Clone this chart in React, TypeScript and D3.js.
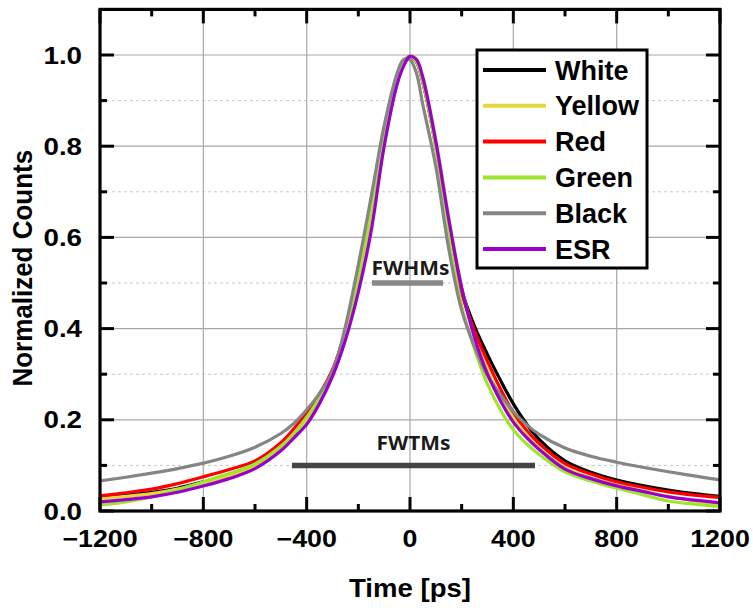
import React from "react";
import * as d3 from "d3";

const times = [-1200,-1100,-1000,-900,-800,-700,-600,-500,-450,-400,-350,-300,-250,-200,-150,-100,-50,-25,0,25,50,100,150,200,250,300,350,400,450,500,600,700,800,900,1000,1100,1200];

const whiteVals = [0.030,0.035,0.041,0.050,0.064,0.080,0.102,0.140,0.168,0.202,0.245,0.305,0.395,0.515,0.665,0.830,0.950,0.985,0.997,0.985,0.940,0.800,0.625,0.485,0.405,0.343,0.287,0.235,0.192,0.157,0.110,0.085,0.068,0.056,0.046,0.038,0.032];
const yellowVals = [0.027,0.032,0.038,0.048,0.062,0.077,0.096,0.135,0.163,0.197,0.240,0.298,0.380,0.490,0.635,0.800,0.940,0.980,0.998,0.990,0.950,0.815,0.645,0.490,0.385,0.310,0.250,0.205,0.168,0.138,0.095,0.073,0.058,0.044,0.032,0.022,0.014];
const redVals = [0.033,0.040,0.048,0.060,0.075,0.091,0.110,0.150,0.180,0.216,0.257,0.310,0.395,0.515,0.665,0.830,0.950,0.985,0.997,0.985,0.940,0.800,0.620,0.478,0.395,0.328,0.268,0.216,0.178,0.148,0.104,0.081,0.064,0.052,0.042,0.035,0.030];
const greenVals = [0.013,0.020,0.031,0.046,0.064,0.082,0.103,0.142,0.170,0.205,0.248,0.305,0.390,0.510,0.660,0.825,0.950,0.985,0.997,0.985,0.940,0.795,0.605,0.450,0.355,0.278,0.222,0.178,0.148,0.124,0.086,0.066,0.050,0.036,0.022,0.015,0.010];
const blackVals = [0.066,0.074,0.083,0.093,0.105,0.120,0.140,0.170,0.192,0.222,0.258,0.305,0.405,0.540,0.690,0.845,0.960,0.990,0.990,0.960,0.890,0.755,0.575,0.440,0.360,0.297,0.255,0.218,0.190,0.168,0.138,0.120,0.107,0.096,0.086,0.077,0.068];
const esrVals = [0.020,0.025,0.031,0.041,0.055,0.071,0.093,0.132,0.160,0.190,0.236,0.295,0.375,0.480,0.615,0.800,0.935,0.975,0.997,0.990,0.950,0.810,0.640,0.490,0.380,0.300,0.242,0.195,0.162,0.135,0.092,0.071,0.055,0.043,0.031,0.024,0.018];

const seriesNames = ["White","Yellow","Red","Green","Black","ESR"];
const seriesColors = ["#000000","#e6d63c","#ff0000","#9ee62e","#858585","#9a00cc"];
const seriesValues = [whiteVals,yellowVals,redVals,greenVals,blackVals,esrVals];

const markerLabels = ["FWHMs","FWTMs"];
const markerLevels = [0.5,0.1];
const markerStart = [-147,-457];
const markerEnd = [128,484];
const markerColors = ["#888888","#444444"];

const xMajor = [-1200,-800,-400,0,400,800,1200];
const xMinor = [-1000,-600,-200,200,600,1000];
const yMajor = [0,0.2,0.4,0.6,0.8,1.0];
const yMinor = [0.1,0.3,0.5,0.7,0.9];

const L = 100, R = 720, T = 9.4, B = 511;

export default function App() {
  const x = d3.scaleLinear().domain([-1200,1200]).range([L,R]);
  const y = d3.scaleLinear().domain([0,1.1]).range([B,T]);
  const line = d3.line<[number,number]>().x(d => x(d[0])).y(d => y(d[1])).curve(d3.curveCatmullRom.alpha(0.5));
  const fmtX = (v: number) => (v < 0 ? "\u2212" + Math.abs(v) : String(v));
  const fmtY = (v: number) => v.toFixed(1);
  const tickFont = "Liberation Sans, Arial, sans-serif";
  const majLen = 14, minLen = 7;
  return (
    <svg width={753} height={608} style={{display:"block", position:"absolute", left:0, top:0}}>
      <rect x={0} y={0} width={753} height={608} fill="#fff" />
      <defs>
        <clipPath id="plotclip"><rect x={L} y={T} width={R-L} height={B-T} /></clipPath>
      </defs>
      {yMinor.map(v => (
        <line key={"ym"+v} x1={L} x2={R} y1={y(v)} y2={y(v)} stroke="#c8c8c8" strokeWidth={1} strokeDasharray="3,3" />
      ))}
      {yMajor.filter(v => v > 0).map(v => (
        <line key={"yg"+v} x1={L} x2={R} y1={y(v)} y2={y(v)} stroke="#a8a8a8" strokeWidth={1.2} />
      ))}
      {xMajor.filter(v => v > -1200 && v < 1200).map(v => (
        <line key={"xg"+v} x1={x(v)} x2={x(v)} y1={T} y2={B} stroke="#a8a8a8" strokeWidth={1.2} />
      ))}
      {markerLabels.map((lab, i) => (
        <g key={lab}>
          <line x1={x(markerStart[i])} x2={x(markerEnd[i])} y1={y(markerLevels[i])} y2={y(markerLevels[i])} stroke={markerColors[i]} strokeWidth={5.5} />
          <text transform={`translate(${(x(markerStart[i]) + x(markerEnd[i])) / 2 + (i === 0 ? 3 : 0)},${y(markerLevels[i]) - (i === 0 ? 8 : 15)}) scale(1.1,1)`} textAnchor="middle" fontFamily="Noto Sans, Open Sans, sans-serif" fontWeight={700} fontSize={19} fill="#1a1a1a">{lab}</text>
        </g>
      ))}
      <g clipPath="url(#plotclip)">
        {seriesValues.map((vals, i) => (
          <path key={seriesNames[i]} d={line(times.map((t, j) => [t, vals[j]] as [number,number])) || ""} fill="none" stroke={seriesColors[i]} strokeWidth={3.2} strokeLinejoin="round" />
        ))}
      </g>
      {xMajor.map(v => (
        <g key={"xt"+v}>
          <line x1={x(v)} x2={x(v)} y1={B} y2={B-majLen} stroke="#000" strokeWidth={3} />
          <line x1={x(v)} x2={x(v)} y1={T} y2={T+majLen} stroke="#000" strokeWidth={3} />
        </g>
      ))}
      {xMinor.map(v => (
        <g key={"xn"+v}>
          <line x1={x(v)} x2={x(v)} y1={B} y2={B-minLen} stroke="#000" strokeWidth={3} />
          <line x1={x(v)} x2={x(v)} y1={T} y2={T+minLen} stroke="#000" strokeWidth={3} />
        </g>
      ))}
      {yMajor.map(v => (
        <g key={"yt"+v}>
          <line x1={L} x2={L+majLen} y1={y(v)} y2={y(v)} stroke="#000" strokeWidth={3} />
          <line x1={R} x2={R-majLen} y1={y(v)} y2={y(v)} stroke="#000" strokeWidth={3} />
        </g>
      ))}
      {yMinor.map(v => (
        <g key={"yn"+v}>
          <line x1={L} x2={L+minLen} y1={y(v)} y2={y(v)} stroke="#000" strokeWidth={3} />
          <line x1={R} x2={R-minLen} y1={y(v)} y2={y(v)} stroke="#000" strokeWidth={3} />
        </g>
      ))}
      <rect x={L} y={T} width={R-L} height={B-T} fill="none" stroke="#000" strokeWidth={3.2} />
      {xMajor.map(v => (
        <text key={"xl"+v} transform={`translate(${x(v)},547) scale(1.14,1)`} textAnchor="middle" fontFamily={tickFont} fontWeight={700} fontSize={23.5}>{fmtX(v)}</text>
      ))}
      {yMajor.map(v => (
        <text key={"yl"+v} transform={`translate(82,${y(v) + 8.5}) scale(1.18,1)`} textAnchor="end" fontFamily={tickFont} fontWeight={700} fontSize={23.5}>{fmtY(v)}</text>
      ))}
      <text transform={`translate(${(L+R)/2},597) scale(1.06,1)`} textAnchor="middle" fontFamily={tickFont} fontWeight={700} fontSize={26}>Time [ps]</text>
      <text transform={`translate(32,${(T+B)/2 + 8}) scale(1.08,1) rotate(-90)`} textAnchor="middle" fontFamily={tickFont} fontWeight={700} fontSize={26}>Normalized Counts</text>
      <rect x={477} y={50} width={170} height={218} fill="#fff" stroke="#000" strokeWidth={3} />
      {seriesNames.map((name, i) => {
        const ly = 70 + i * 35.8;
        return (
          <g key={"lg"+name}>
            <line x1={483} x2={546} y1={ly} y2={ly} stroke={seriesColors[i]} strokeWidth={4} />
            <text x={555} y={ly + 9.5} fontFamily={tickFont} fontWeight={700} fontSize={27}>{name}</text>
          </g>
        );
      })}
    </svg>
  );
}
